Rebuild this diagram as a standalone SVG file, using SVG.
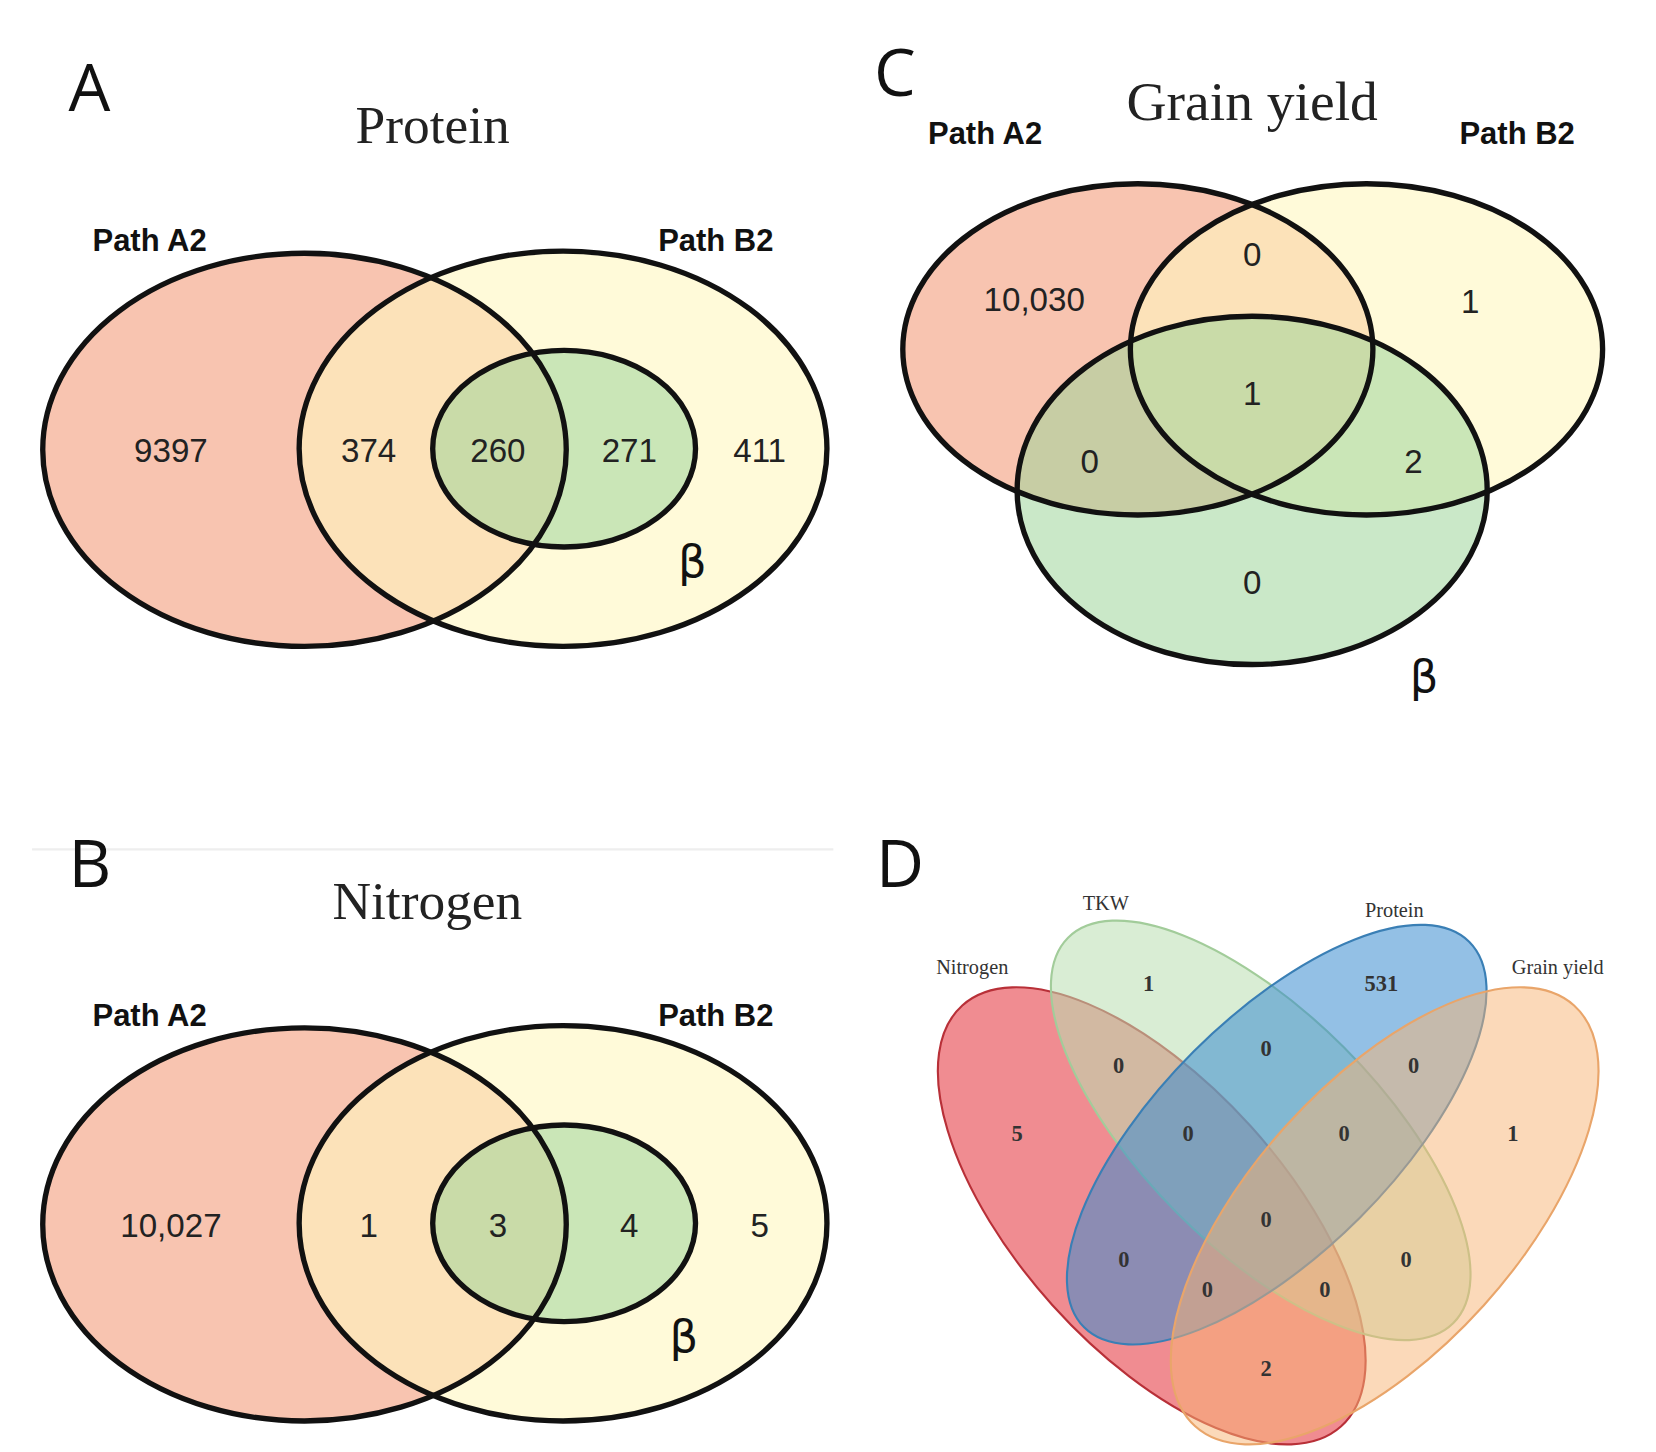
<svg xmlns="http://www.w3.org/2000/svg" width="1656" height="1452" viewBox="0 0 1656 1452">
<style>
.big{font-family:"Open Sans","DejaVu Sans",sans-serif;font-size:62px;fill:#111}
.title{font-family:"Liberation Serif",serif;font-size:50px;fill:#222;text-anchor:middle}
.path{font-family:"Liberation Sans",Arial,sans-serif;font-size:29px;font-weight:bold;fill:#111;text-anchor:middle}
.num{font-family:"Liberation Sans",Arial,sans-serif;font-size:31px;fill:#222;text-anchor:middle}
.beta{font-family:"DejaVu Sans",sans-serif;font-size:42px;fill:#111;text-anchor:middle}
.ol{stroke:#111;stroke-width:5}
.dl{font-family:"Liberation Serif",serif;font-size:19px;fill:#333;text-anchor:middle}
.dn{font-family:"Liberation Serif",serif;font-size:21px;fill:#333;text-anchor:middle;font-weight:bold}
</style>
<rect width="1656" height="1452" fill="#fff"/>
<g transform="scale(1.0684)">
<g id="panelA">
<text class="big" x="64" y="104">A</text>
<text class="title" x="405" y="134">Protein</text>
<text class="path" x="140" y="235">Path A2</text>
<text class="path" x="670" y="235">Path B2</text>
<ellipse cx="285" cy="421" rx="245" ry="184" fill="#f4a07f" fill-opacity="0.62"/>
<ellipse cx="527" cy="420" rx="247" ry="185" fill="#fff6c0" fill-opacity="0.6"/>
<ellipse cx="528" cy="420" rx="123" ry="92" fill="#9fd59a" fill-opacity="0.55"/>
<ellipse class="ol" cx="285" cy="421" rx="245" ry="184" fill="none"/>
<ellipse class="ol" cx="527" cy="420" rx="247" ry="185" fill="none"/>
<ellipse class="ol" cx="528" cy="420" rx="123" ry="92" fill="none"/>
<text class="num" x="160" y="432">9397</text>
<text class="num" x="345" y="432">374</text>
<text class="num" x="466" y="432">260</text>
<text class="num" x="589" y="432">271</text>
<text class="num" x="711" y="432">411</text>
<text class="beta" x="648" y="540">β</text>
</g>
<g id="panelB">
<line x1="30" y1="795" x2="780" y2="795" stroke="#eee" stroke-width="2"/>
<text class="big" x="64" y="830">B</text>
<text class="title" x="400" y="860">Nitrogen</text>
<text class="path" x="140" y="960">Path A2</text>
<text class="path" x="670" y="960">Path B2</text>
<ellipse cx="285" cy="1146" rx="245" ry="184" fill="#f4a07f" fill-opacity="0.62"/>
<ellipse cx="527" cy="1145" rx="247" ry="185" fill="#fff6c0" fill-opacity="0.6"/>
<ellipse cx="528" cy="1145" rx="123" ry="92" fill="#9fd59a" fill-opacity="0.55"/>
<ellipse class="ol" cx="285" cy="1146" rx="245" ry="184" fill="none"/>
<ellipse class="ol" cx="527" cy="1145" rx="247" ry="185" fill="none"/>
<ellipse class="ol" cx="528" cy="1145" rx="123" ry="92" fill="none"/>
<text class="num" x="160" y="1158">10,027</text>
<text class="num" x="345" y="1158">1</text>
<text class="num" x="466" y="1158">3</text>
<text class="num" x="589" y="1158">4</text>
<text class="num" x="711" y="1158">5</text>
<text class="beta" x="640" y="1265">β</text>
</g>
<g id="panelC">
<text class="big" x="818" y="90">C</text>
<text class="title" x="1172" y="112" style="font-size:52px">Grain yield</text>
<text class="path" x="922" y="135">Path A2</text>
<text class="path" x="1420" y="135">Path B2</text>
<ellipse cx="1065" cy="327" rx="220" ry="155" fill="#f4a07f" fill-opacity="0.62"/>
<ellipse cx="1279" cy="327" rx="221" ry="155" fill="#fff6c0" fill-opacity="0.6"/>
<ellipse cx="1172" cy="459" rx="220" ry="163" fill="#9fd59a" fill-opacity="0.55"/>
<ellipse class="ol" cx="1065" cy="327" rx="220" ry="155" fill="none"/>
<ellipse class="ol" cx="1279" cy="327" rx="221" ry="155" fill="none"/>
<ellipse class="ol" cx="1172" cy="459" rx="220" ry="163" fill="none"/>
<text class="num" x="968" y="291">10,030</text>
<text class="num" x="1172" y="249">0</text>
<text class="num" x="1376" y="293">1</text>
<text class="num" x="1172" y="379">1</text>
<text class="num" x="1020" y="443">0</text>
<text class="num" x="1323" y="443">2</text>
<text class="num" x="1172" y="556">0</text>
<text class="beta" x="1333" y="648">β</text>
</g>
<g id="panelD">
<text class="big" x="820" y="830">D</text>
<ellipse cx="1078" cy="1138" rx="265" ry="125" transform="rotate(48 1078 1138)" fill="#e6454d" fill-opacity="0.62" stroke="#b83038" stroke-width="2"/>
<ellipse cx="1180" cy="1058" rx="255" ry="110" transform="rotate(45 1180 1058)" fill="#b9deb1" fill-opacity="0.55" stroke="#a2cc9a" stroke-width="2"/>
<ellipse cx="1195" cy="1062" rx="255" ry="110" transform="rotate(-45 1195 1062)" fill="#3b8dd0" fill-opacity="0.55" stroke="#3a7fb5" stroke-width="2"/>
<ellipse cx="1296" cy="1138" rx="265" ry="125" transform="rotate(-48 1296 1138)" fill="#f8b474" fill-opacity="0.5" stroke="#e9a56a" stroke-width="2"/>
<text class="dl" x="910" y="912">Nitrogen</text>
<text class="dl" x="1035" y="852">TKW</text>
<text class="dl" x="1305" y="858">Protein</text>
<text class="dl" x="1458" y="912">Grain yield</text>
<text class="dn" x="1075" y="928">1</text>
<text class="dn" x="1293" y="928">531</text>
<text class="dn" x="952" y="1068">5</text>
<text class="dn" x="1047" y="1004">0</text>
<text class="dn" x="1185" y="988">0</text>
<text class="dn" x="1323" y="1004">0</text>
<text class="dn" x="1112" y="1068">0</text>
<text class="dn" x="1258" y="1068">0</text>
<text class="dn" x="1416" y="1068">1</text>
<text class="dn" x="1185" y="1148">0</text>
<text class="dn" x="1052" y="1186">0</text>
<text class="dn" x="1316" y="1186">0</text>
<text class="dn" x="1130" y="1214">0</text>
<text class="dn" x="1240" y="1214">0</text>
<text class="dn" x="1185" y="1288">2</text>
</g>
</g>
</svg>
